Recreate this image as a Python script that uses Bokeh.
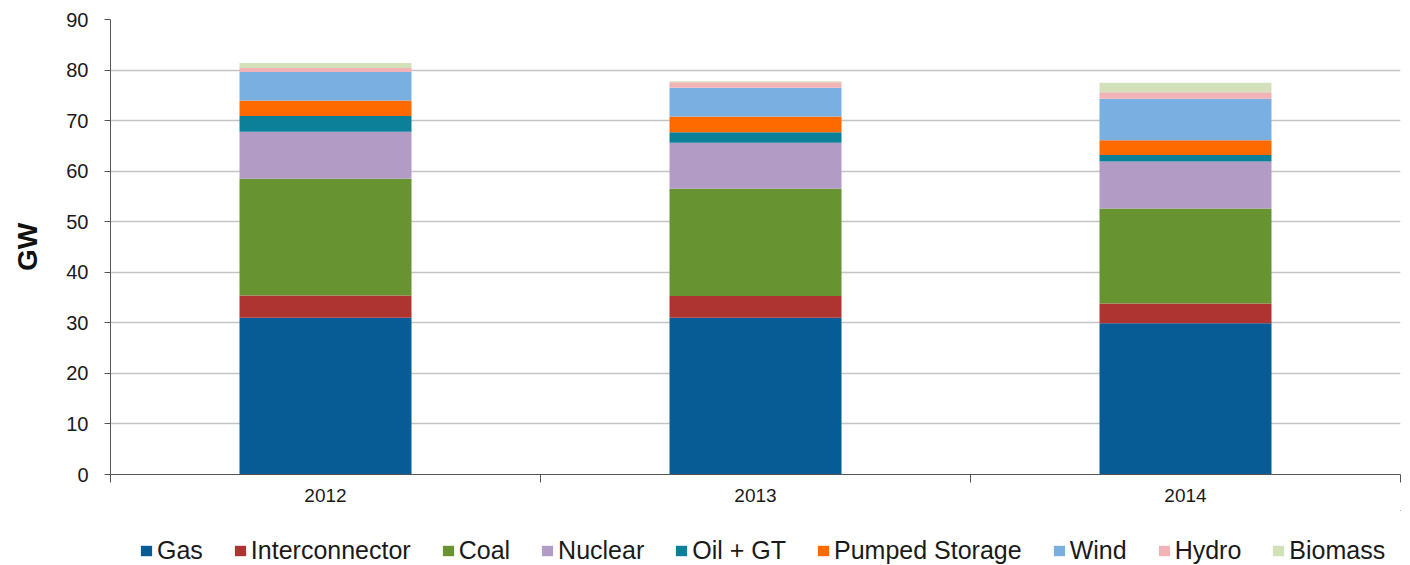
from bokeh.plotting import figure
from bokeh.layouts import column
from bokeh.models import (ColumnDataSource, Range1d, FixedTicker, Legend, LegendItem)
from bokeh.embed import file_html
from bokeh.resources import INLINE

years = ["2012", "2013", "2014"]
sources = ["Gas", "Interconnector", "Coal", "Nuclear", "Oil + GT",
           "Pumped Storage", "Wind", "Hydro", "Biomass"]
gas = [31.0, 31.0, 29.9]
interconnector = [4.4, 4.3, 3.9]
coal = [23.1, 21.2, 18.8]
nuclear = [9.3, 9.1, 9.3]
oil_gt = [3.1, 2.1, 1.3]
pumped = [3.1, 3.1, 2.9]
wind = [5.6, 5.7, 8.2]
hydro = [0.8, 1.1, 1.3]
biomass = [1.0, 0.2, 1.9]
y_ticks = [0, 10, 20, 30, 40, 50, 60, 70, 80, 90]

colors = ["#075c96", "#ad3430", "#679431", "#b29cc5", "#0c7f99",
          "#ff6a00", "#7aafe1", "#f2b3b7", "#d3e1bb"]
series = [gas, interconnector, coal, nuclear, oil_gt, pumped, wind, hydro, biomass]

x = [i + 0.5 for i in range(len(years))]
data = {"x": x}
for name, vals in zip(sources, series):
    data[name] = vals
src = ColumnDataSource(data)

FONT = "Liberation Sans"
AXIS = "#555555"

p = figure(width=1402, height=510, output_backend="svg", toolbar_location=None,
           x_range=Range1d(0, len(years)), y_range=Range1d(0, 90),
           min_border_left=110, min_border_right=2, min_border_top=19,
           min_border_bottom=36)
p.outline_line_color = None
p.background_fill_color = "white"
p.border_fill_color = "white"

p.vbar_stack(sources, x="x", width=0.4, source=src,
             color=colors, line_color=None)

# y axis
p.yaxis.ticker = FixedTicker(ticks=y_ticks)
p.yaxis.axis_label = "GW"
p.yaxis.axis_label_text_font = FONT
p.yaxis.axis_label_text_font_size = "28px"
p.yaxis.axis_label_text_font_style = "bold"
p.yaxis.axis_label_text_color = "#111111"
p.yaxis.axis_label_standoff = 20
p.yaxis.major_label_text_font = FONT
p.yaxis.major_label_text_font_size = "20px"
p.yaxis.major_label_text_color = "#1a1a1a"
p.yaxis.major_label_standoff = 16
p.yaxis.major_tick_in = 0
p.yaxis.major_tick_out = 6
p.yaxis.minor_tick_line_color = None
p.yaxis.axis_line_color = AXIS
p.yaxis.major_tick_line_color = AXIS

# x axis: labels at centres, separator ticks between categories
p.xaxis.ticker = FixedTicker(ticks=x, minor_ticks=list(range(len(years) + 1)))
p.xaxis.major_label_overrides = {xi: y for xi, y in zip(x, years)}
p.xaxis.major_tick_line_color = None
p.xaxis.major_tick_in = 0
p.xaxis.major_tick_out = 0
p.xaxis.minor_tick_in = 0
p.xaxis.minor_tick_out = 8
p.xaxis.minor_tick_line_color = AXIS
p.xaxis.axis_line_color = AXIS
p.xaxis.major_label_text_font = FONT
p.xaxis.major_label_text_font_size = "19px"
p.xaxis.major_label_text_color = "#1a1a1a"
p.xaxis.major_label_standoff = 6

p.xgrid.grid_line_color = None
p.ygrid.grid_line_color = "#c4c4c4"
p.ygrid.grid_line_width = 1.5

# legend strip below the chart (its own zero-width bars stay outside its view)
lg = figure(width=1402, height=55, output_backend="svg", toolbar_location=None,
            x_range=Range1d(-30, -20), y_range=Range1d(-30, -20),
            x_axis_type=None, y_axis_type=None,
            min_border_left=0, min_border_right=0, min_border_top=0,
            min_border_bottom=0)
lg.outline_line_color = None
lg.grid.grid_line_color = None
lg.border_fill_color = "white"
lg_renderers = lg.vbar_stack(sources, x="x", width=0, source=src,
                             color=colors, line_color=None)
items = [LegendItem(label=s, renderers=[r]) for s, r in zip(sources, lg_renderers)]
legend = Legend(items=items, orientation="horizontal", location=(29, 0),
                label_text_font=FONT, label_text_font_size="25px",
                label_text_color="#1a1a1a",
                glyph_width=14, glyph_height=13, spacing=30,
                label_standoff=4, padding=0, margin=0,
                border_line_color=None, background_fill_alpha=0)
lg.add_layout(legend)

open("out.html", "w").write(file_html(column(p, lg, spacing=0), INLINE))
